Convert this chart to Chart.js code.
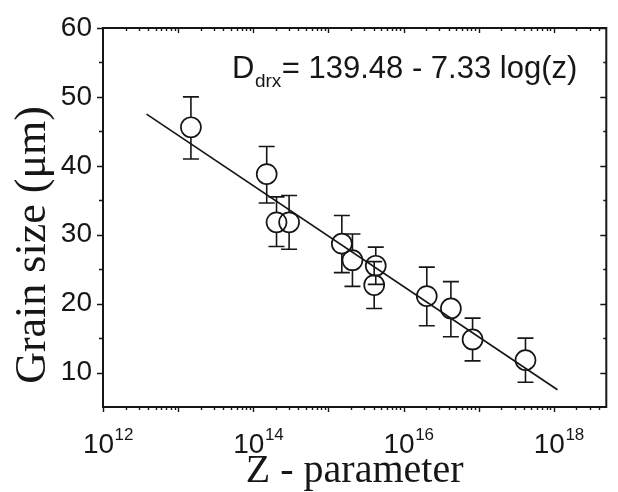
<!DOCTYPE html>
<html><head><meta charset="utf-8">
<script src="https://cdn.jsdelivr.net/npm/chart.js@4.4.1/dist/chart.umd.min.js"></script>
<style>html,body{margin:0;padding:0;background:#fff}</style>
</head><body>
<canvas id="c" width="618" height="492" style="display:block;width:618px;height:492px"></canvas>
<script>
// ---- data ----
const zParam    = [1.48e13, 1.51e14, 2.04e14, 3.0e14, 1.51e15, 2.09e15, 4.27e15, 4.07e15, 2.04e16, 4.27e16, 8.3e16, 4.2e17];
const grainSize = [45.6, 38.8, 31.8, 31.8, 28.7, 26.3, 25.5, 22.7, 21.1, 19.3, 14.8, 11.8];
const errHigh   = [50.0, 42.8, 35.5, 35.7, 32.8, 30.1, 28.2, 26.1, 25.3, 23.2, 17.9, 15.0];
const errLow    = [41.0, 34.6, 28.3, 27.9, 24.5, 22.5, 22.8, 19.3, 16.8, 15.2, 11.7, 8.6];
const fitZ      = [3.8e12, 1.12e18];
const fitD      = [47.5, 7.5];
const yTickLabels = [10, 20, 30, 40, 50, 60];
const xLabelExps  = [12, 14, 16, 18];
const equationMain = 'D';
const equationSub  = 'drx';
const equationRest = '= 139.48 - 7.33 log(z)';
const xTitle = 'Z - parameter';
const yTitle = 'Grain size (\u03bcm)';

const SANS = "'Liberation Sans', Arial, sans-serif";
const SERIF = "'Liberation Serif', 'Times New Roman', serif";
const INK = '#161616';
const R = 10;

const decorations = {
  id: 'decorations',
  beforeDatasetsDraw(chart) {
    const {ctx, scales: {x, y}} = chart;
    ctx.save();
    ctx.strokeStyle = INK; ctx.lineWidth = 1.6;
    ctx.beginPath();
    zParam.forEach((z, i) => {
      const px = x.getPixelForValue(z);
      const pc = y.getPixelForValue(grainSize[i]);
      const pt = y.getPixelForValue(errHigh[i]);
      const pb = y.getPixelForValue(errLow[i]);
      ctx.moveTo(px, pt); ctx.lineTo(px, pc - R);
      ctx.moveTo(px, pc + R); ctx.lineTo(px, pb);
      ctx.moveTo(px - 8, pt); ctx.lineTo(px + 8, pt);
      ctx.moveTo(px - 8, pb); ctx.lineTo(px + 8, pb);
    });
    ctx.stroke();
    ctx.restore();
  },
  afterDraw(chart) {
    const {ctx, chartArea: a, scales: {x, y}} = chart;
    ctx.save();
    ctx.strokeStyle = INK;
    ctx.lineWidth = 2;
    ctx.strokeRect(a.left, a.top, a.right - a.left, a.bottom - a.top);
    ctx.lineWidth = 1.4;
    ctx.beginPath();
    y.ticks.forEach(t => {
      if (t.value <= y.min) return;
      const py = Math.round(y.getPixelForValue(t.value)) + 0.5;
      const major = t.value % 10 === 0;
      ctx.moveTo(a.left - (major ? 6 : 4), py); ctx.lineTo(a.left, py);
      ctx.moveTo(a.right, py); ctx.lineTo(a.right - (major ? 6 : 3), py);
    });
    x.ticks.forEach(t => {
      if (t.value <= x.min || t.value >= x.max) return;
      const px = Math.round(x.getPixelForValue(t.value)) + 0.5;
      const len = t.major ? 5 : 3;
      ctx.moveTo(px, a.bottom); ctx.lineTo(px, a.bottom + len);
      ctx.moveTo(px, a.top); ctx.lineTo(px, a.top + len);
    });
    ctx.moveTo(a.left + 0.5, a.bottom); ctx.lineTo(a.left + 0.5, a.bottom + 5);
    ctx.stroke();

    // x tick labels 10^n
    ctx.fillStyle = INK;
    ctx.textBaseline = 'alphabetic';
    xLabelExps.forEach(n => {
      const px = x.getPixelForValue(Math.pow(10, n));
      ctx.font = '28px ' + SANS;
      const w1 = ctx.measureText('10').width;
      ctx.font = '17px ' + SANS;
      const w2 = ctx.measureText(String(n)).width;
      const start = px + 5 - (w1 + w2) / 2;
      ctx.font = '28px ' + SANS;
      ctx.textAlign = 'left';
      ctx.fillText('10', start, 453);
      ctx.font = '17px ' + SANS;
      ctx.fillText(String(n), start + w1 + 0.5, 440);
    });

    // equation
    let ex = 232;
    ctx.font = '31px ' + SANS;
    ctx.fillText(equationMain, ex, 78);
    ex += ctx.measureText(equationMain).width + 0.5;
    ctx.font = '19px ' + SANS;
    ctx.fillText(equationSub, ex, 87);
    ex += ctx.measureText(equationSub).width + 0.5;
    ctx.font = '31px ' + SANS;
    ctx.fillText(equationRest, ex, 78);

    // y title
    ctx.save();
    ctx.translate(45, 245);
    ctx.rotate(-Math.PI / 2);
    ctx.font = '44px ' + SERIF;
    ctx.textAlign = 'center';
    ctx.textBaseline = 'alphabetic';
    ctx.fillText(yTitle, 0, 0);
    ctx.restore();
    ctx.restore();
  }
};

const xTickValues = [];
for (let n = 12; n <= 18; n++) {
  for (let k = 1; k <= 9; k++) {
    const v = k * Math.pow(10, n);
    if (v <= 5e18) xTickValues.push({value: v, major: k === 1});
  }
}

new Chart(document.getElementById('c'), {
  data: {
    datasets: [
      {
        type: 'line',
        data: fitZ.map((z, i) => ({x: z, y: fitD[i]})),
        borderColor: INK, borderWidth: 1.7, pointRadius: 0, fill: false, order: 0
      },
      {
        type: 'scatter',
        data: zParam.map((z, i) => ({x: z, y: grainSize[i]})),
        pointRadius: R, pointBorderWidth: 1.7,
        borderColor: INK, backgroundColor: 'rgba(255,255,255,0)', order: 1
      }
    ]
  },
  options: {
    responsive: false,
    animation: false,
    devicePixelRatio: 1,
    layout: {padding: {top: 28, right: 3, left: 0, bottom: 0}},
    plugins: {legend: {display: false}, tooltip: {enabled: false}},
    scales: {
      x: {
        type: 'logarithmic', position: 'bottom', min: 1e12, max: 5e18,
        grid: {display: false, drawTicks: false},
        border: {display: false},
        ticks: {display: false, autoSkip: false},
        afterBuildTicks(scale) { scale.ticks = xTickValues.map(t => ({...t})); },
        afterFit(scale) {
          scale.height = 85;
          scale.paddingLeft = 0; scale.paddingRight = 0; scale.paddingTop = 0; scale.paddingBottom = 0;
        },
        title: {
          display: true, text: xTitle, color: INK,
          font: {family: SERIF, size: 40, lineHeight: 1},
          padding: {top: 0, bottom: 1}
        }
      },
      y: {
        type: 'linear', position: 'left', min: 5, max: 60,
        grid: {display: false, drawTicks: false},
        border: {display: false},
        ticks: {
          stepSize: 5, padding: 11, color: INK, autoSkip: false,
          font: {family: SANS, size: 28},
          callback: v => (yTickLabels.includes(v) ? String(v) : '')
        },
        afterFit(scale) {
          scale.width = 103;
          scale.paddingLeft = 0; scale.paddingRight = 0; scale.paddingTop = 0; scale.paddingBottom = 0;
        }
      }
    }
  },
  plugins: [decorations]
});
</script>
</body></html>
